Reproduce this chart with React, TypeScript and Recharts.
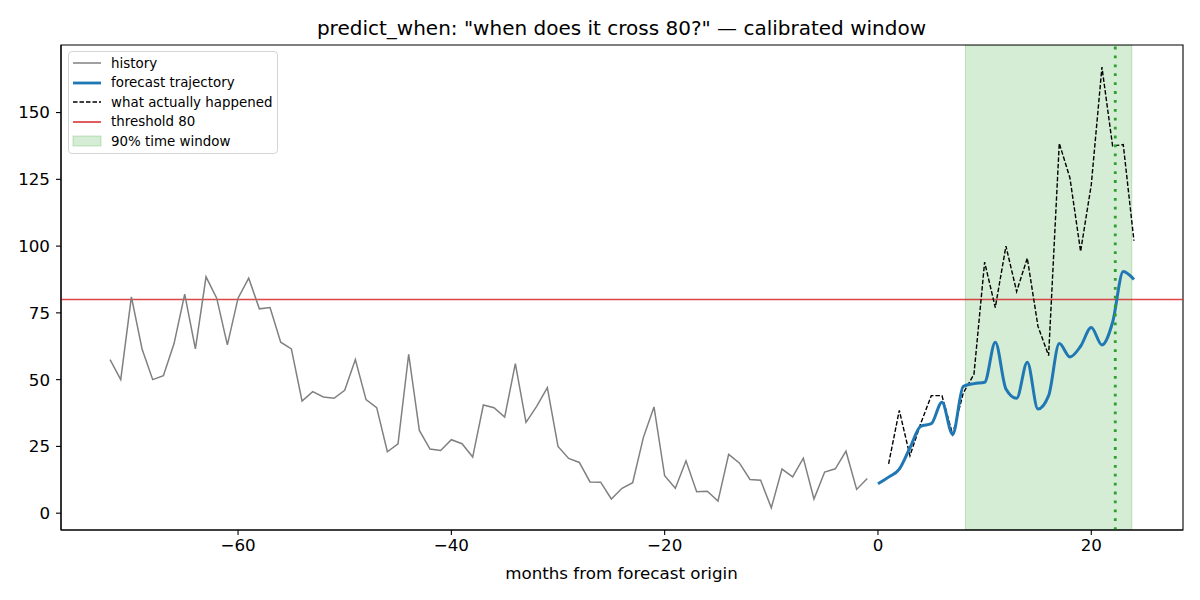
import {
  ComposedChart,
  Line,
  ReferenceArea,
  ReferenceLine,
  XAxis,
  YAxis,
} from "recharts";

// history: one value per month, starting at month -72
const historyStart = -72;
const historyValues = [
  57.5, 50, 81, 61.5, 50, 51.5, 63.5, 82, 61.5, 88.5, 80.5, 63, 80.5, 88, 76.5,
  77, 64, 61.5, 42, 45.5, 43.5, 43, 46, 57.5, 42.5, 39.5, 23, 26, 59.5, 31, 24,
  23.5, 27.5, 26, 21, 40.5, 39.5, 36, 56, 34, 40, 47, 25, 20.5, 19, 11.7, 11.6,
  5.3, 9.3, 11.4, 28.3, 39.8, 14, 9.3, 19.6, 8, 8.2, 4.5, 22, 18.8, 12.6, 12.3,
  2, 16.5, 13.6, 20.6, 5.3, 15.4, 16.6, 23.2, 8.9, 13,
];

// forecast trajectory, months 0..24
const forecastStart = 0;
const forecastValues = [
  11, 13.5, 16.5, 24.5, 32.5, 33.5, 41.5, 29.5, 47.5, 48.5, 49, 64, 46.5, 43,
  56.5, 39, 44, 63.5, 58.5, 62.5, 69.5, 63, 71.5, 90.5, 87.5,
];

// what actually happened, months 1..24
const actualStart = 1;
const actualValues = [
  18.5, 38.5, 21.5, 33.5, 44, 44, 29.5, 45, 52, 94, 77, 100, 83, 95.5, 70, 59,
  138.5, 125.5, 98, 123, 167, 137.5, 138, 102,
];

const threshold = 80;
const windowStart = 8.2;
const windowEnd = 23.8;
const crossMonth = 22.25;

const xTicks = [-60, -40, -20, 0, 20];
const yTicks = [0, 25, 50, 75, 100, 125, 150];

type Row = {
  month: number;
  history?: number;
  forecast?: number;
  actual?: number;
};

function buildRows(): Row[] {
  const byMonth = new Map<number, Row>();
  const put = (month: number, key: "history" | "forecast" | "actual", v: number) => {
    const row = byMonth.get(month) ?? { month };
    row[key] = v;
    byMonth.set(month, row);
  };
  historyValues.forEach((v, i) => put(historyStart + i, "history", v));
  forecastValues.forEach((v, i) => put(forecastStart + i, "forecast", v));
  actualValues.forEach((v, i) => put(actualStart + i, "actual", v));
  return [...byMonth.values()].sort((a, b) => a.month - b.month);
}

const rows = buildRows();

const FONT = "'DejaVu Sans', sans-serif";
const tickStyle = { fontSize: 16.7, fill: "#000", fontFamily: FONT };
const X_DOMAIN: [number, number] = [-76.6, 28.6];
const Y_DOMAIN: [number, number] = [-6.3, 175.3];

const legendItems = [
  { label: "history", kind: "line", color: "#808080", width: 1.5, dash: undefined },
  { label: "forecast trajectory", kind: "line", color: "#1f77b4", width: 2.8, dash: undefined },
  { label: "what actually happened", kind: "line", color: "#000", width: 1.5, dash: "4.5 2" },
  { label: "threshold 80", kind: "line", color: "#d62728", width: 1.5, dash: undefined },
  { label: "90% time window", kind: "patch", color: "#2ca02c", width: 0, dash: undefined },
];

function ChartLegend() {
  return (
    <div
      style={{
        position: "absolute",
        left: 68,
        top: 51,
        width: 210,
        height: 103,
        border: "1px solid #d5d5d5",
        borderRadius: 4,
        background: "rgba(255,255,255,0.85)",
        fontFamily: FONT,
        fontSize: 13.4,
        boxSizing: "border-box",
      }}
    >
      {legendItems.map((item, i) => (
        <div
          key={item.label}
          style={{
            position: "absolute",
            left: 0,
            top: 2 + i * 19.6,
            height: 18,
            display: "flex",
            alignItems: "center",
            whiteSpace: "nowrap",
          }}
        >
          <svg width={38} height={18} style={{ display: "block" }}>
            {item.kind === "line" ? (
              <line
                x1={4}
                x2={32}
                y1={9}
                y2={9}
                stroke={item.color}
                strokeWidth={item.width}
                strokeDasharray={item.dash}
              />
            ) : (
              <rect
                x={4}
                y={4}
                width={28}
                height={10}
                fill={item.color}
                fillOpacity={0.2}
                stroke={item.color}
                strokeOpacity={0.25}
              />
            )}
          </svg>
          <span style={{ marginLeft: 4 }}>{item.label}</span>
        </div>
      ))}
    </div>
  );
}

export default function App() {
  return (
    <div
      style={{
        position: "absolute",
        left: 0,
        top: 0,
        width: 1200,
        height: 600,
        background: "#fff",
        fontFamily: FONT,
      }}
    >
      <div
        style={{
          position: "absolute",
          left: 61,
          width: 1121,
          top: 16,
          textAlign: "center",
          fontSize: 20,
          lineHeight: "24px",
        }}
      >
        predict_when: "when does it cross 80?" — calibrated window
      </div>
      <ComposedChart
        width={1200}
        height={600}
        data={rows}
        margin={{ top: 45, right: 17, bottom: 0, left: 0 }}
      >
        <ReferenceArea
          x1={windowStart}
          x2={windowEnd}
          fill="#2ca02c"
          fillOpacity={0.2}
          stroke="#2ca02c"
          strokeOpacity={0.25}
          ifOverflow="hidden"
        />
        <ReferenceArea
          x1={X_DOMAIN[0]}
          x2={X_DOMAIN[1]}
          y1={Y_DOMAIN[0]}
          y2={Y_DOMAIN[1]}
          fill="none"
          stroke="#000"
          strokeWidth={1.1}
          ifOverflow="visible"
        />
        <XAxis
          dataKey="month"
          type="number"
          domain={X_DOMAIN}
          ticks={xTicks}
          allowDataOverflow
          height={70}
          tick={tickStyle}
          tickSize={5}
          tickMargin={4}
          tickFormatter={(v: number) => (v < 0 ? `−${Math.abs(v)}` : `${v}`)}
          axisLine={{ stroke: "#000", strokeWidth: 1.1 }}
          tickLine={{ stroke: "#000", strokeWidth: 1.1 }}
        />
        <YAxis
          type="number"
          domain={Y_DOMAIN}
          ticks={yTicks}
          allowDataOverflow
          width={61}
          tick={tickStyle}
          tickSize={5}
          tickMargin={6}
          axisLine={{ stroke: "#000", strokeWidth: 1.1 }}
          tickLine={{ stroke: "#000", strokeWidth: 1.1 }}
        />
        <ReferenceLine y={threshold} stroke="#d62728" strokeOpacity={0.85} strokeWidth={1.5} />
        <Line
          dataKey="history"
          type="linear"
          stroke="#808080"
          strokeWidth={1.5}
          dot={false}
          connectNulls={false}
          isAnimationActive={false}
        />
        <Line
          dataKey="actual"
          type="linear"
          stroke="#000"
          strokeWidth={1.4}
          strokeDasharray="4.5 2"
          dot={false}
          connectNulls={false}
          isAnimationActive={false}
        />
        <Line
          dataKey="forecast"
          type="monotone"
          stroke="#1f77b4"
          strokeWidth={3}
          dot={false}
          connectNulls={false}
          isAnimationActive={false}
        />
        <ReferenceLine
          x={crossMonth}
          stroke="#2ca02c"
          strokeWidth={2.8}
          strokeDasharray="2.8 6.1"
        />
      </ComposedChart>
      <div
        style={{
          position: "absolute",
          left: 61,
          width: 1121,
          top: 563,
          textAlign: "center",
          fontSize: 16.7,
          lineHeight: "20px",
        }}
      >
        months from forecast origin
      </div>
      <ChartLegend />
    </div>
  );
}
